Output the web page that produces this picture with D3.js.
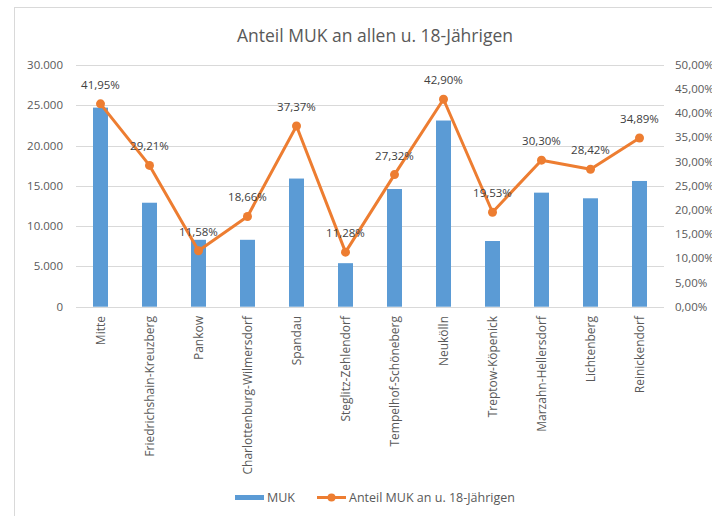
<!DOCTYPE html>
<html>
<head>
<meta charset="utf-8">
<script src="https://cdn.jsdelivr.net/npm/d3@7"></script>
<style>
  body { margin: 0; background: #fff; }
  svg text { font-family: "Open Sans", sans-serif; fill: #595959; }
</style>
</head>
<body>
<svg id="chart" width="712" height="516"></svg>
<script>
// Bezirke und Werte
let categories = ["Mitte", "Friedrichshain-Kreuzberg", "Pankow", "Charlottenburg-Wilmersdorf",
    "Spandau", "Steglitz-Zehlendorf", "Tempelhof-Schöneberg", "Neukölln",
    "Treptow-Köpenick", "Marzahn-Hellersdorf", "Lichtenberg", "Reinickendorf"];
let muk = [24700, 12900, 8300, 8300, 15900, 5400, 14600, 23100, 8150, 14150, 13450, 15600];
let anteil = [41.95, 29.21, 11.58, 18.66, 37.37, 11.28, 27.32, 42.90, 19.53, 30.30, 28.42, 34.89];
let leftTicks = [0, 5000, 10000, 15000, 20000, 25000, 30000];
let rightTicks = [0, 5, 10, 15, 20, 25, 30, 35, 40, 45, 50];

let svg = d3.select("#chart");
let de = d3.formatLocale({decimal: ",", thousands: ".", grouping: [3], currency: ["", "€"]});
let fmtCount = de.format(",");
let fmtPct = v => de.format(".2f")(v) + "%";

// chart border
svg.append("rect")
    .attr("x", 14.5).attr("y", 7.5)
    .attr("width", 720).attr("height", 520)
    .attr("fill", "none").attr("stroke", "#d9d9d9");

let x = d3.scaleBand().domain(categories).range([76, 664]);
let y = d3.scaleLinear().domain([0, 30000]).range([306.7, 64.9]);
let y2 = d3.scaleLinear().domain([0, 50]).range([306.7, 64.9]);

// title
svg.append("text")
    .attr("x", 375).attr("y", 42)
    .attr("text-anchor", "middle")
    .style("font-size", "17.5px")
    .text("Anteil MUK an allen u. 18-Jährigen");

// gridlines
svg.append("g").selectAll("line").data(leftTicks).enter().append("line")
    .attr("x1", 76).attr("x2", 664)
    .attr("y1", d => Math.round(y(d)) + 0.5).attr("y2", d => Math.round(y(d)) + 0.5)
    .attr("stroke", "#d9d9d9").attr("stroke-width", 1);

// left axis labels
svg.append("g").selectAll("text").data(leftTicks).enter().append("text")
    .attr("x", 63).attr("y", d => y(d) + 4)
    .attr("text-anchor", "end")
    .style("font-size", "11.5px")
    .text(d => fmtCount(d));

// right axis labels (clipped at the right edge, as in the original)
svg.append("g").selectAll("text").data(rightTicks).enter().append("text")
    .attr("x", 675).attr("y", d => y2(d) + 4)
    .style("font-size", "11.5px")
    .text(d => de.format(".2f")(d) + "%");

// bars
let barW = 15;
svg.append("g").selectAll("rect").data(muk).enter().append("rect")
    .attr("x", (d, i) => x(categories[i]) + x.bandwidth() / 2 - barW / 2)
    .attr("y", d => y(d))
    .attr("width", barW)
    .attr("height", d => y(0) - y(d))
    .attr("fill", "#5b9bd5");

// category labels
svg.append("g").selectAll("text").data(categories).enter().append("text")
    .attr("transform", d => "translate(" + (x(d) + x.bandwidth() / 2 + 4) + ",316) rotate(-90)")
    .attr("text-anchor", "end")
    .style("font-size", "12px")
    .text(d => d);

// line
let line = d3.line()
    .x((d, i) => x(categories[i]) + x.bandwidth() / 2)
    .y(d => y2(d));
svg.append("path").datum(anteil)
    .attr("d", line)
    .attr("fill", "none")
    .attr("stroke", "#ed7d31")
    .attr("stroke-width", 3)
    .attr("stroke-linejoin", "round");

svg.append("g").selectAll("circle").data(anteil).enter().append("circle")
    .attr("cx", (d, i) => x(categories[i]) + x.bandwidth() / 2)
    .attr("cy", d => y2(d))
    .attr("r", 4.5)
    .attr("fill", "#ed7d31");

// data labels
svg.append("g").selectAll("text").data(anteil).enter().append("text")
    .attr("x", (d, i) => x(categories[i]) + x.bandwidth() / 2)
    .attr("y", d => y2(d) - 15)
    .attr("text-anchor", "middle")
    .style("font-size", "11.5px")
    .style("fill", "#404040")
    .text(d => fmtPct(d));

// legend
let legend = svg.append("g");
legend.append("rect")
    .attr("x", 235).attr("y", 495).attr("width", 29).attr("height", 5)
    .attr("fill", "#5b9bd5");
legend.append("text")
    .attr("x", 267).attr("y", 502)
    .style("font-size", "12.5px")
    .text("MUK");
legend.append("line")
    .attr("x1", 317).attr("x2", 346).attr("y1", 497.5).attr("y2", 497.5)
    .attr("stroke", "#ed7d31").attr("stroke-width", 3);
legend.append("circle")
    .attr("cx", 331.5).attr("cy", 497.5).attr("r", 4)
    .attr("fill", "#ed7d31");
legend.append("text")
    .attr("x", 349).attr("y", 502)
    .style("font-size", "12.5px")
    .text("Anteil MUK an u. 18-Jährigen");
</script>
</body>
</html>
